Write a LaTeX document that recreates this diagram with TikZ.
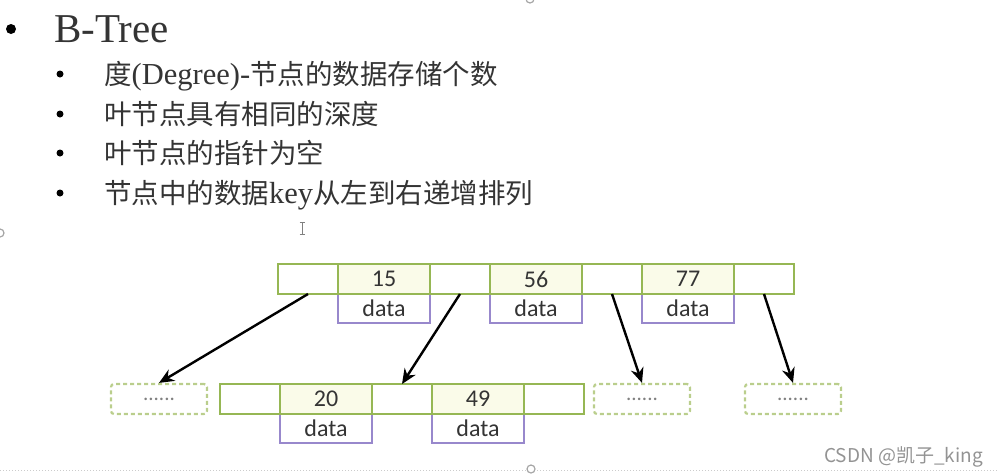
\documentclass[tikz,border=0pt]{standalone}
\usepackage{fontspec}
\setmainfont{Liberation Serif}
\newfontfamily\cjk{Noto Sans CJK SC}
\newfontfamily\enfont{Liberation Serif}
\newfontfamily\calfont{Carlito}
\usepackage{xcolor}
\usepackage{tikz}
\usetikzlibrary{arrows.meta, positioning, backgrounds}
\definecolor{keyline}{RGB}{150,183,84}
\definecolor{keyfill}{RGB}{250,251,233}
\definecolor{dataline}{RGB}{152,136,204}
\definecolor{dashline}{RGB}{186,206,140}
\definecolor{ink}{RGB}{52,52,52}
\newcommand\en[1]{{\enfont\fontsize{30.5}{30}\selectfont #1}}
\tikzset{
  cell/.style={draw=keyline, line width=2pt, minimum height=30pt, inner sep=0pt,
               outer sep=0pt, text=ink, font=\calfont\fontsize{24}{24}\selectfont},
  ptr/.style={cell, fill=white, minimum width=60pt},
  key/.style={cell, fill=keyfill, minimum width=92pt},
  dat/.style={draw=dataline, line width=1.6pt, fill=white, minimum width=92pt,
              minimum height=29pt, inner sep=0pt, outer sep=0pt, text=ink,
              font=\calfont\fontsize{24}{24}\selectfont},
  more/.style={draw=dashline, line width=2.2pt, dash pattern=on 4pt off 3pt,
               rounded corners=3pt, minimum width=96pt, minimum height=30pt,
               text=gray, font=\calfont\fontsize{21}{21}\selectfont},
  ptrlink/.style={-{Stealth[length=15pt, width=13pt]}, line width=2.4pt},
  dot/.style={circle, fill=black, inner sep=0pt},
  textline/.style={anchor=base west, inner sep=0pt, text=ink,
                   font=\cjk\fontsize{27.5}{30}\selectfont}
}
\begin{document}
\begin{tikzpicture}[x=1pt, y=-1pt, node distance=0pt]
  \useasboundingbox (0,0) rectangle (998,474);
  % slide text
  \node[dot, minimum size=10pt] (b0) at (11,29) {};
  \node[textline, font=\enfont\fontsize{41}{44}\selectfont] (title) at (54,42.7) {B-Tree};
  \foreach \y/\txt [count=\i] in {84/{度\en{(Degree)-}节点的数据存储个数},
      124/叶节点具有相同的深度, 163/叶节点的指针为空,
      203/{节点中的数据\en{key}从左到右递增排列}} {
    \node[dot, minimum size=7pt] (b\i) at (60,\y-10) {};
    \node[textline] (l\i) at (104,\y) {\txt};
  }
  % root node
  \node[ptr] (r0) at (308,279) {};
  \node[key, right=of r0] (r15) {15};
  \node[ptr, right=of r15] (r1) {};
  \node[key, right=of r1] (r56) {56};
  \node[ptr, right=of r56] (r2) {};
  \node[key, right=of r2] (r77) {77};
  \node[ptr, right=of r77] (r3) {};
  % child level
  \node[more] (m0) at (159,399) {......};
  \node[ptr] (c0) at (250,399) {};
  \node[key, right=of c0] (c20) {20};
  \node[ptr, right=of c20] (c1) {};
  \node[key, right=of c1] (c49) {49};
  \node[ptr, right=of c49] (c2) {};
  \node[more] (m2) at (642,399) {......};
  \node[more] (m3) at (793,399) {......};
  \begin{scope}[on background layer]
    \foreach \k in {r15, r56, r77, c20, c49}
      \node[dat, below=of \k] (d\k) {data};
  \end{scope}
  \foreach \a/\b in {r0/m0, r1/c1, r2/m2, r3/m3}
    \draw[ptrlink] (\a.south) -- (\b.north);
  % screen marks
  \draw[gray!40, dotted, line width=1pt] (0,470) -- (998,470);
  \draw[gray!70, line width=1.2pt, fill=white] (530,-1) circle (4);
  \draw[gray!70, line width=1.2pt, fill=white] (0,233) circle (4);
  \draw[gray!70, line width=1.2pt, fill=white] (531,469) circle (4);
  \draw[gray, line width=1pt] (302,222) -- (302,234)
    (299.5,222) -- (304.5,222) (299.5,234) -- (304.5,234);
  \node[anchor=base east, inner sep=0pt, text=gray!85,
        font=\cjk\fontsize{19}{20}\selectfont] (mark) at (983,462) {CSDN @凯子\_king};
\end{tikzpicture}
\end{document}
